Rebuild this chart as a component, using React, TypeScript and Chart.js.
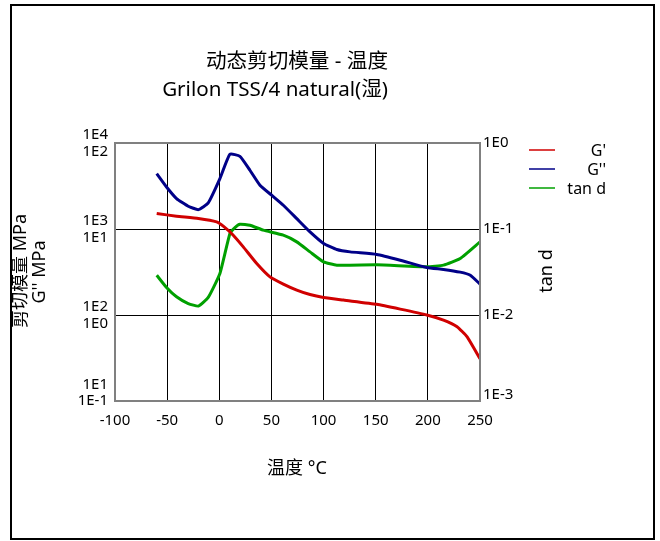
import React, { useEffect, useRef } from "react";
import { Chart, registerables } from "chart.js";

Chart.register(...registerables);

const FONT = "'Noto Sans', 'Noto Sans CJK SC', sans-serif";

const titleLines = ["动态剪切模量 - 温度", "Grilon TSS/4 natural(湿)"];
const xTitle = "温度 °C";
const yTitle1 = "剪切模量 MPa";
const yTitle2 = "G'' MPa";
const y3Title = "tan d";

const xTicks = [-100, -50, 0, 50, 100, 150, 200, 250];
const leftDecades = [10, 100, 1000, 10000];
const leftLabelsA = ["1E1", "1E2", "1E3", "1E4"];
const leftLabelsB = ["1E-1", "1E0", "1E1", "1E2"];
const rightDecades = [0.001, 0.01, 0.1, 1];
const rightLabels = ["1E-3", "1E-2", "1E-1", "1E0"];

const seriesNames = ["G'", "G''", "tan d"];
const seriesColors = ["#d00000", "#000088", "#00a000"];

const gpTemp = [-60, -41, -20, -2.6, 3.8, 13.4, 23, 35.9, 48.6, 61.4, 74.3, 87, 100, 119, 151, 173.5, 199, 215, 228, 237.5, 250];
const gpVal = [1514, 1409, 1324, 1210, 1078, 847, 620, 397, 278, 229, 195, 173, 160, 149, 133, 117, 100, 87, 73, 56, 31];

const gppTemp = [-60, -50.6, -41, -29.8, -20, -10.6, 0.6, 10.2, 19.8, 29.4, 39, 50.2, 61.4, 74.3, 87, 100, 112.7, 125.5, 151, 173.5, 199, 215, 231, 240.7, 250];
const gppVal = [44, 30.8, 22.6, 18.4, 16.8, 20.1, 38.5, 74, 70, 48.2, 32.3, 24.7, 18.9, 13.2, 9.25, 6.79, 5.78, 5.42, 5.06, 4.34, 3.57, 3.39, 3.15, 2.9, 2.29];

const tanTemp = [-60, -50.6, -41, -29.8, -20, -10.6, 0.6, 10.2, 15, 19.8, 29.4, 42.2, 61.4, 74.3, 87, 100, 112.7, 151, 199, 215, 231, 250];
const tanVal = [0.029, 0.0209, 0.0163, 0.0136, 0.0127, 0.016, 0.0304, 0.0887, 0.104, 0.1138, 0.1107, 0.0969, 0.0847, 0.0708, 0.0542, 0.0415, 0.038, 0.0383, 0.0363, 0.038, 0.0454, 0.0708];

const toPts = (xs: number[], ys: number[]) => xs.map((x, i) => ({ x, y: ys[i] }));

const framePlugin = {
  id: "frameBorder",
  afterDatasetsDraw(chart: any) {
    const { ctx, chartArea } = chart;
    ctx.save();
    ctx.strokeStyle = "#808080";
    ctx.lineWidth = 2;
    ctx.strokeRect(chartArea.left, chartArea.top, chartArea.right - chartArea.left, chartArea.bottom - chartArea.top);
    ctx.restore();
  },
};

export default function App() {
  const ref = useRef<HTMLCanvasElement | null>(null);

  useEffect(() => {
    document.body.style.margin = "0";
    const canvas = ref.current;
    if (!canvas) return;
    const mk = (xs: number[], ys: number[], i: number, axis: string) => ({
      label: seriesNames[i],
      data: toPts(xs, ys),
      borderColor: seriesColors[i],
      backgroundColor: seriesColors[i],
      borderWidth: 3,
      pointRadius: 0,
      tension: 0.15,
      yAxisID: axis,
    });
    const chart = new Chart(canvas, {
      type: "line",
      data: {
        datasets: [
          mk(gpTemp, gpVal, 0, "y"),
          mk(gppTemp, gppVal, 1, "y2"),
          mk(tanTemp, tanVal, 2, "y3"),
        ],
      },
      options: {
        responsive: false,
        animation: false,
        layout: { padding: { top: 143, left: 65, right: 140, bottom: 110 } },
        plugins: { legend: { display: false }, title: { display: false }, tooltip: { enabled: false } },
        scales: {
          x: {
            type: "linear",
            min: -100,
            max: 250,
            afterBuildTicks: (s: any) => {
              s.ticks = xTicks.map((v) => ({ value: v }));
            },
            ticks: { color: "#000", font: { family: FONT, size: 15 }, padding: 11, maxRotation: 0, autoSkip: false },
            grid: { color: "#000", lineWidth: 1, drawTicks: false },
            border: { display: false },
            afterFit: (s: any) => {
              s.height = 30;
            },
          },
          y: {
            type: "logarithmic",
            position: "left",
            min: 10,
            max: 10000,
            afterBuildTicks: (s: any) => {
              s.ticks = leftDecades.map((v) => ({ value: v }));
            },
            ticks: {
              color: "#000",
              font: { family: FONT, size: 15, lineHeight: 1.1 },
              padding: 7,
              autoSkip: false,
              callback: (v: any) => {
                const i = leftDecades.indexOf(Number(v));
                if (i < 0) return "";
                return i === 0 ? [leftLabelsA[i], leftLabelsB[i], ""] : [leftLabelsA[i], leftLabelsB[i]];
              },
            },
            grid: { color: "#000", lineWidth: 1, drawTicks: false },
            border: { display: false },
            afterFit: (s: any) => {
              s.width = 50;
            },
          },
          y2: {
            type: "logarithmic",
            position: "left",
            min: 0.1,
            max: 100,
            display: false,
          },
          y3: {
            type: "logarithmic",
            position: "right",
            min: 0.001,
            max: 1,
            afterBuildTicks: (s: any) => {
              s.ticks = rightDecades.map((v) => ({ value: v }));
            },
            ticks: {
              color: "#000",
              font: { family: FONT, size: 15, lineHeight: 0.9 },
              padding: 3,
              autoSkip: false,
              callback: (v: any) => {
                const i = rightDecades.indexOf(Number(v));
                if (i < 0) return "";
                return i === 0 ? [rightLabels[i], ""] : rightLabels[i];
              },
            },
            grid: { drawOnChartArea: false, drawTicks: false },
            border: { display: false },
            afterFit: (s: any) => {
              s.width = 40;
            },
          },
        },
      } as any,
      plugins: [framePlugin],
    });
    return () => chart.destroy();
  }, []);

  const text: React.CSSProperties = { position: "absolute", fontFamily: FONT, color: "#000", whiteSpace: "nowrap" };
  const rot = (cx: number, cy: number, size: number): React.CSSProperties => ({
    ...text,
    left: cx,
    top: cy,
    fontSize: size,
    lineHeight: 1,
    transform: "translate(-50%, -50%) rotate(-90deg)",
  });

  return (
    <div style={{ position: "relative", width: 660, height: 541, background: "#fff", overflow: "hidden" }}>
      <div style={{ position: "absolute", left: 10, top: 4, width: 645, height: 536, border: "2px solid #000", boxSizing: "border-box" }} />
      <canvas ref={ref} width={660} height={541} style={{ position: "absolute", left: 0, top: 0, width: 660, height: 541 }} />
      <div style={{ ...text, right: 272, top: 60, fontSize: 20.6, lineHeight: 1, transform: "translateY(-50%)", textAlign: "right" }}>{titleLines[0]}</div>
      <div style={{ ...text, right: 272, top: 88, fontSize: 20.6, lineHeight: 1, transform: "translateY(-50%)", textAlign: "right" }}>{titleLines[1]}</div>
      <div style={{ ...text, left: 297, top: 467, fontSize: 18, lineHeight: 1, transform: "translate(-50%, -50%)" }}>{xTitle}</div>
      <div style={rot(18.5, 271, 18)}>{yTitle1}</div>
      <div style={rot(38, 272, 18)}>{yTitle2}</div>
      <div style={rot(545, 271, 18)}>{y3Title}</div>
      {seriesNames.map((n, i) => (
        <React.Fragment key={n}>
          <div style={{ position: "absolute", left: 529, top: 148.5 + i * 19, width: 26, height: 2, background: seriesColors[i], opacity: 0.75 }} />
          <div style={{ ...text, right: 660 - 606, top: 150 + i * 19, fontSize: 16, lineHeight: 1, transform: "translateY(-50%)", textAlign: "right" }}>{n}</div>
        </React.Fragment>
      ))}
    </div>
  );
}
